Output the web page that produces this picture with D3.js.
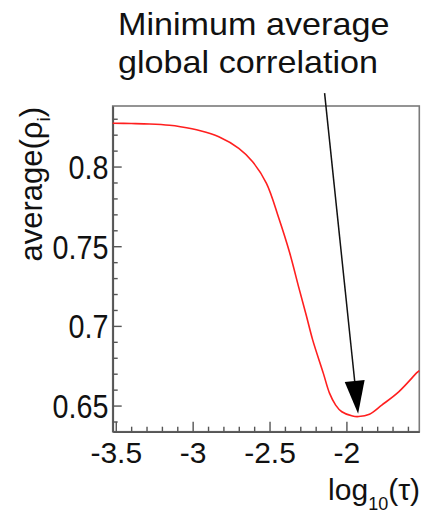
<!DOCTYPE html>
<html>
<head>
<meta charset="utf-8">
<script src="https://cdn.jsdelivr.net/npm/d3@7"></script>
<style>
  html, body { margin: 0; padding: 0; background: #fff; }
  svg { display: block; }
  text { font-family: "Liberation Sans", Arial, Helvetica, sans-serif; fill: #111; }
</style>
</head>
<body>
<svg id="chart" width="429" height="519"></svg>
<script>
// Average global correlation versus log10 of the time scale tau
const logTau = [-3.52, -3.40, -3.28, -3.15, -3.08, -2.95, -2.83, -2.70, -2.61, -2.52,
                -2.44, -2.37, -2.31, -2.26, -2.22, -2.15, -2.11, -2.07, -2.03, -1.96,
                -1.92, -1.85, -1.77, -1.66, -1.54, -1.526];
const avgRho = [0.8272, 0.8270, 0.8267, 0.8259, 0.8250, 0.8225, 0.8187, 0.8114, 0.8030, 0.7895,
                0.7677, 0.7462, 0.7242, 0.7062, 0.6914, 0.6702, 0.6578, 0.6503, 0.6461, 0.6434,
                0.6431, 0.6446, 0.6503, 0.6586, 0.6708, 0.6720];

const xMajorTicks = [-3.5, -3, -2.5, -2];
const xTickLabels = ["-3.5", "-3", "-2.5", "-2"];
const yMajorTicks = [0.65, 0.7, 0.75, 0.8];
const yTickLabels = ["0.65", "0.7", "0.75", "0.8"];

// Annotation: arrow from the caption down to the minimum
const arrowFrom = [-2.142, 0.8461];
const arrowTo = [-1.924, 0.6448];
const captionLines = ["Minimum average", "global correlation"];

const svg = d3.select("#chart");
const frame = { left: 112.7, top: 106, right: 419.3, bottom: 431.7 };

const x = d3.scaleLinear().domain([-3.52, -1.526]).range([frame.left, frame.right]);
const y = d3.scaleLinear().domain([0.6336, 0.838]).range([frame.bottom, frame.top]);

// frame (top and right sides)
svg.append("rect")
  .attr("x", frame.left).attr("y", frame.top)
  .attr("width", frame.right - frame.left).attr("height", frame.bottom - frame.top)
  .attr("fill", "none").attr("stroke", "#7a7a7a").attr("stroke-width", 1.6);

const axisColor = "#555";

// x minor ticks
const xMinor = d3.range(-35, -15).map(d => d / 10).filter(v => !xMajorTicks.some(m => Math.abs(m - v) < 1e-9));
svg.append("g")
  .attr("transform", `translate(0,${frame.bottom})`)
  .call(d3.axisBottom(x).tickValues(xMinor).tickSize(-5).tickFormat(""))
  .call(g => g.select(".domain").remove())
  .call(g => g.selectAll("line").attr("stroke", axisColor).attr("stroke-width", 1.4));

// x major ticks + labels
svg.append("g")
  .attr("transform", `translate(0,${frame.bottom})`)
  .call(d3.axisBottom(x).tickValues(xMajorTicks).tickSizeInner(-10).tickSizeOuter(0)
        .tickPadding(10.5).tickFormat((d, i) => xTickLabels[i]))
  .call(g => g.select(".domain").attr("stroke", axisColor).attr("stroke-width", 1.8))
  .call(g => g.selectAll("line").attr("stroke", axisColor).attr("stroke-width", 1.4))
  .call(g => g.selectAll("text").attr("font-size", 30).attr("fill", "#111")
        .style("font-family", "'Liberation Sans', Arial, sans-serif"));

// y minor ticks
const yMinor = d3.range(64, 84).map(d => d / 100).filter(v => !yMajorTicks.some(m => Math.abs(m - v) < 1e-9));
svg.append("g")
  .attr("transform", `translate(${frame.left},0)`)
  .call(d3.axisLeft(y).tickValues(yMinor).tickSize(-5).tickFormat(""))
  .call(g => g.select(".domain").remove())
  .call(g => g.selectAll("line").attr("stroke", axisColor).attr("stroke-width", 1.4));

// y major ticks + labels
svg.append("g")
  .attr("transform", `translate(${frame.left},0)`)
  .call(d3.axisLeft(y).tickValues(yMajorTicks).tickSizeInner(-9).tickSizeOuter(0)
        .tickPadding(5).tickFormat((d, i) => yTickLabels[i]))
  .call(g => g.select(".domain").attr("stroke", axisColor).attr("stroke-width", 1.8))
  .call(g => g.selectAll("line").attr("stroke", axisColor).attr("stroke-width", 1.4))
  .call(g => g.selectAll("text").attr("font-size", 33).attr("fill", "#111")
        .attr("dy", "0.36em").attr("transform", "scale(0.87,1)")
        .style("font-family", "'Liberation Sans', Arial, sans-serif"));

// curve
const line = d3.line()
  .x((d, i) => x(logTau[i]))
  .y(d => y(d))
  .curve(d3.curveCatmullRom.alpha(0.5));
svg.append("path")
  .datum(avgRho)
  .attr("d", line)
  .attr("fill", "none")
  .attr("stroke", "#ff1f1f")
  .attr("stroke-width", 1.6);

// axis titles
const yTitle = svg.append("text")
  .attr("transform", `translate(41.5,107) rotate(-90)`)
  .attr("text-anchor", "end")
  .attr("font-size", 31);
yTitle.append("tspan").text("average(ρ");
yTitle.append("tspan").attr("font-size", 19).attr("dy", 8).text("i");
yTitle.append("tspan").attr("dy", -8).text(")");

const xTitle = svg.append("text")
  .attr("x", 420).attr("y", 500)
  .attr("text-anchor", "end")
  .attr("font-size", 30);
xTitle.append("tspan").text("log");
xTitle.append("tspan").attr("font-size", 18).attr("dy", 10).text("10");
xTitle.append("tspan").attr("dy", -10).text("(τ)");

// caption
captionLines.forEach((t, i) => {
  svg.append("text")
    .attr("transform", `translate(118,${35 + i * 38}) scale(1.12,1)`)
    .attr("font-size", 30.5)
    .attr("fill", "#111")
    .text(t);
});

// arrow
const x0 = x(arrowFrom[0]), y0 = y(arrowFrom[1]);
const x1 = x(arrowTo[0]), y1 = y(arrowTo[1]);
const len = Math.hypot(x1 - x0, y1 - y0);
const ux = (x1 - x0) / len, uy = (y1 - y0) / len;
const headLen = 33, headHalf = 10;
const bx = x1 - ux * headLen, by = y1 - uy * headLen;
svg.append("line")
  .attr("x1", x0).attr("y1", y0).attr("x2", bx).attr("y2", by)
  .attr("stroke", "#111").attr("stroke-width", 1.5);
svg.append("path")
  .attr("d", `M${x1},${y1} L${bx - uy * headHalf},${by + ux * headHalf} L${bx + uy * headHalf},${by - ux * headHalf} Z`)
  .attr("fill", "#000");
</script>
</body>
</html>
